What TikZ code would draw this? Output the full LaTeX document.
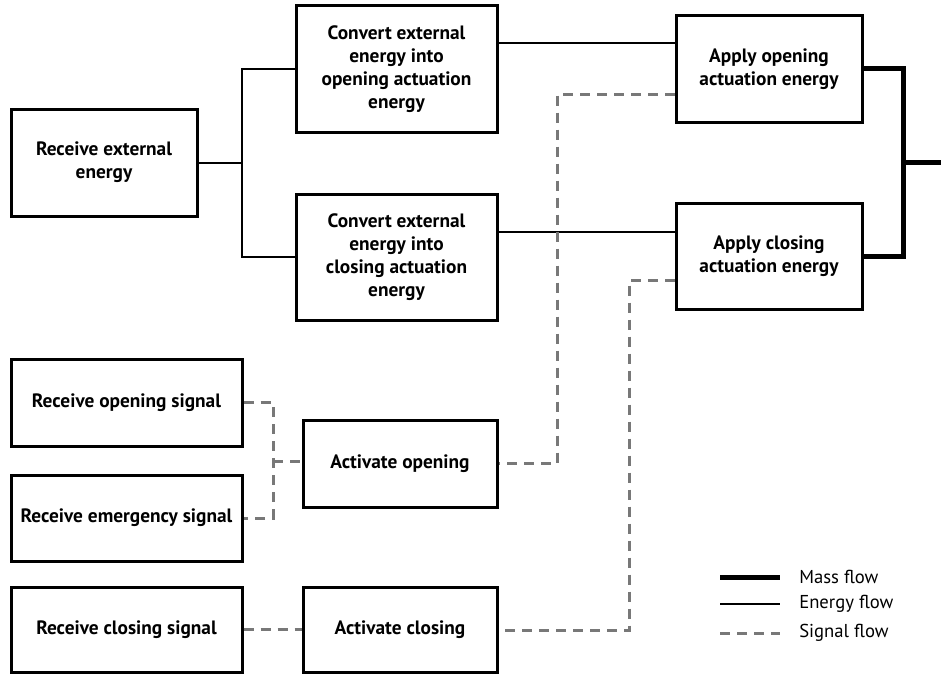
\documentclass[tikz,border=0pt]{standalone}
\usepackage{fontspec}
\setmainfont{PT Sans}
\usetikzlibrary{calc}
\definecolor{sigGray}{HTML}{787878}

\begin{document}
\begin{tikzpicture}[x=0.75pt,y=-0.75pt,
  fn/.style={draw,rectangle,line width=2.25pt,align=center,inner sep=2pt,font=\fontsize{14.5}{17.25}\selectfont\bfseries},
  energy/.style={line width=1.5pt},
  mass/.style={line width=3.75pt},
  signal/.style={line width=2.25pt,sigGray,dash pattern=on 7.5pt off 5.25pt},
  legtext/.style={anchor=west,inner sep=0pt,font=\fontsize{14}{16}\selectfont}]

\useasboundingbox (0,0) rectangle (941,674);

\node (rxe) [fn,minimum width=139.5pt,minimum height=80.25pt] at (104,162.5) {Receive external\\energy};
\node (cvo) [fn,minimum width=150.75pt,minimum height=94.5pt] at (396.5,69) {Convert external\\energy into\\opening actuation\\energy};
\node (cvc) [fn,minimum width=150.75pt,minimum height=94.5pt] at (396.5,257) {Convert external\\energy into\\closing actuation\\energy};
\node (apo) [fn,minimum width=139.5pt,minimum height=79.5pt] at (769,69) {Apply opening\\actuation energy};
\node (apc) [fn,minimum width=139.5pt,minimum height=79.5pt] at (769,256) {Apply closing\\actuation energy};

\node (ros) [fn,minimum width=173.25pt,minimum height=65.25pt] at (126.5,402.5) {Receive opening signal};
\node (res) [fn,minimum width=173.25pt,minimum height=64.5pt] at (126.5,518) {Receive emergency signal};
\node (rcs) [fn,minimum width=173.25pt,minimum height=63.75pt] at (126.5,629.5) {Receive closing signal};
\node (aco) [fn,minimum width=145.5pt,minimum height=65.25pt] at (400,463.5) {Activate opening};
\node (acc) [fn,minimum width=145.5pt,minimum height=63.75pt] at (400,629.5) {Activate closing};

\coordinate (ej) at (242,162.5);
\coordinate (mj) at (903,162.5);
\coordinate (mout) at (941,162.5);
\coordinate (sj) at (273,461);
\coordinate (so) at (557,463);
\coordinate (sc) at (629,630);

\draw[energy] (rxe.east) -- (ej);
\draw[energy] (cvo.west) -| (ej) |- (cvc.west);
\draw[energy] (cvo.east |- 0,43) -- (apo.west |- 0,43);
\draw[energy] (cvc.east |- 0,232) -- (apc.west |- 0,232);

\draw[mass] (apo.east) -| (mj) |- (apc.east);
\draw[mass] (mj) -- (mout);

\draw[signal] (ros.east) -| (sj) |- (res.east);
\draw[signal] (sj) -- (aco.west |- sj);
\draw[signal] (rcs.east) -- (acc.west);
\draw[signal] (apo.west |- 0,94) -| (so) -- (aco.east |- so);
\draw[signal] (apc.west |- 0,280) -| (sc) -- (acc.east |- sc);

\node (lmass) [legtext] at (799,577) {Mass flow};
\node (lenergy) [legtext] at (799,604) {Energy flow};
\node (lsignal) [legtext] at (799,633) {Signal flow};
\draw[mass] (720,577) -- (780,577);
\draw[energy] (720,604) -- (780,604);
\draw[signal] (720,633) -- (780,633);

\end{tikzpicture}
\end{document}
